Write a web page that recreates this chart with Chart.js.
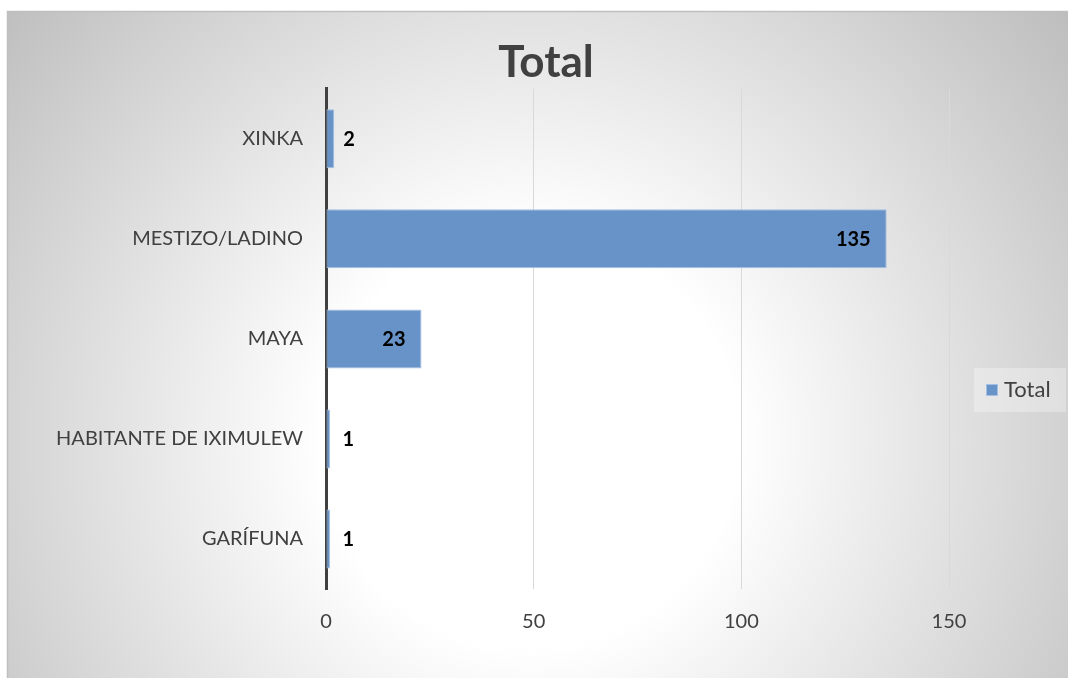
<!DOCTYPE html>
<html>
<head>
<meta charset="utf-8">
<script src="https://cdn.jsdelivr.net/npm/chart.js@4/dist/chart.umd.min.js"></script>
<style>
  html, body { margin: 0; padding: 0; background: #fff; }
  #wrap { width: 1068px; height: 678px; position: relative; }
</style>
</head>
<body>
<div id="wrap"><canvas id="totalChart" width="1068" height="678"></canvas></div>
<script>
// datos del gráfico
const categories = ['XINKA', 'MESTIZO/LADINO', 'MAYA', 'HABITANTE DE IXIMULEW', 'GARÍFUNA'];
const totals = [2, 135, 23, 1, 1];
const xTicks = [0, 50, 100, 150];
const seriesName = 'Total';

const barColor = '#6893c8';
const barEdge = '#a3c0e3';
const textGray = '#404040';
const fontName = 'Lato, "Liberation Sans", sans-serif';

// fondo con degradado radial y marco
const backgroundPlugin = {
    id: 'background',
    beforeDraw(chart) {
        const ctx = chart.ctx;
        ctx.save();
        ctx.fillStyle = '#ffffff';
        ctx.fillRect(0, 0, chart.width, chart.height);
        const g = ctx.createRadialGradient(530, 440, 0, 530, 440, 690);
        g.addColorStop(0, '#ffffff');
        g.addColorStop(0.3, '#ffffff');
        g.addColorStop(1, '#bdbdbd');
        ctx.fillStyle = g;
        ctx.fillRect(7, 11, chart.width - 7, chart.height - 11);
        ctx.strokeStyle = '#bfbfbf';
        ctx.lineWidth = 1.5;
        ctx.beginPath();
        ctx.moveTo(7.5, chart.height);
        ctx.lineTo(7.5, 11.5);
        ctx.lineTo(chart.width, 11.5);
        ctx.stroke();
        ctx.restore();
    }
};

// etiquetas de datos (dentro del extremo si caben, si no afuera)
const labelsPlugin = {
    id: 'barLabels',
    afterDatasetsDraw(chart) {
        const ctx = chart.ctx;
        const meta = chart.getDatasetMeta(0);
        ctx.save();
        ctx.font = 'bold 20px ' + fontName;
        ctx.fillStyle = '#000000';
        ctx.textBaseline = 'middle';
        meta.data.forEach((bar, i) => {
            const txt = String(totals[i]);
            const w = ctx.measureText(txt).width;
            const len = bar.x - bar.base;
            if (len > w + 30) {
                ctx.textAlign = 'right';
                ctx.fillText(txt, bar.x - 16, bar.y + 1);
            } else {
                ctx.textAlign = 'left';
                ctx.fillText(txt, Math.max(bar.x + 9, bar.base + 16), bar.y + 1);
            }
        });
        ctx.restore();
    }
};

// leyenda a la derecha
const legendPlugin = {
    id: 'sideLegend',
    afterDraw(chart) {
        const ctx = chart.ctx;
        ctx.save();
        ctx.fillStyle = 'rgba(255,255,255,0.3)';
        ctx.fillRect(974, 368, 92, 44);
        ctx.fillStyle = barColor;
        ctx.fillRect(986, 384, 12, 12);
        ctx.strokeStyle = barEdge;
        ctx.lineWidth = 1;
        ctx.strokeRect(986.5, 384.5, 11, 11);
        ctx.font = '22px ' + fontName;
        ctx.fillStyle = textGray;
        ctx.textAlign = 'left';
        ctx.textBaseline = 'middle';
        ctx.fillText(seriesName, 1004, 390);
        ctx.restore();
    }
};

const ctx = document.getElementById('totalChart').getContext('2d');
const chart = new Chart(ctx, {
    type: 'bar',
    data: {
        labels: categories,
        datasets: [{
            label: seriesName,
            data: totals,
            backgroundColor: barColor,
            borderColor: barEdge,
            borderWidth: 1,
            borderSkipped: false,
            barPercentage: 0.59,
            categoryPercentage: 1
        }]
    },
    options: {
        indexAxis: 'y',
        responsive: false,
        animation: false,
        layout: { padding: { left: 24, right: 0, top: 0, bottom: 0 } },
        plugins: {
            legend: { display: false },
            tooltip: { enabled: false },
            title: {
                display: true,
                text: 'Total',
                color: textGray,
                font: { family: fontName, size: 44, weight: 'bold' },
                padding: { top: 36, bottom: 0 }
            }
        },
        scales: {
            x: {
                min: 0,
                max: 150,
                afterBuildTicks(scale) {
                    scale.ticks = xTicks.map(v => ({ value: v }));
                },
                afterFit(scale) { scale.height = 89; },
                border: { display: false },
                grid: {
                    drawTicks: false,
                    color: c => c.tick && c.tick.value === 0 ? 'rgba(0,0,0,0)' : '#d9d9d9',
                    lineWidth: 1
                },
                ticks: {
                    padding: 21,
                    color: textGray,
                    font: { family: fontName, size: 20 }
                }
            },
            y: {
                afterFit(scale) { scale.width = 302; },
                border: { display: true, color: textGray, width: 3 },
                grid: { display: false, drawTicks: false },
                ticks: {
                    padding: 23,
                    color: textGray,
                    font: { family: fontName, size: 20 }
                }
            },
            // espacio reservado a la derecha para la leyenda
            legendSpace: {
                type: 'category',
                position: 'right',
                afterFit(scale) { scale.width = 119; },
                border: { display: false },
                grid: { display: false, drawTicks: false },
                ticks: { display: false }
            }
        }
    },
    plugins: [backgroundPlugin, labelsPlugin, legendPlugin]
});
</script>
</body>
</html>
